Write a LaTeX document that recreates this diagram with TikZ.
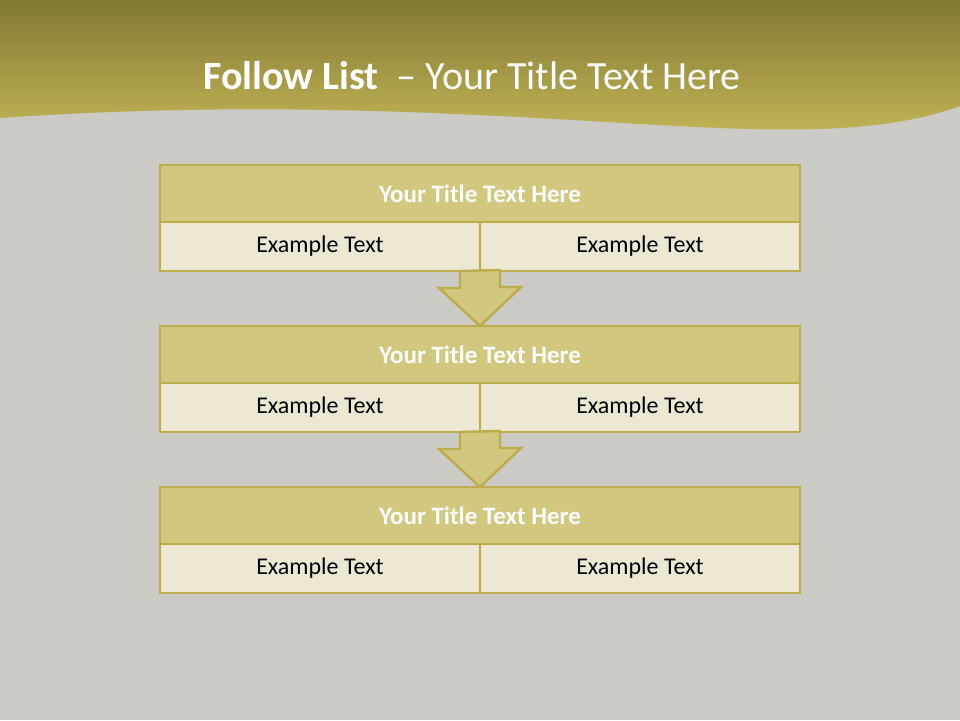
\documentclass[tikz,border=0pt]{standalone}
\usepackage{fontspec}
\setmainfont{Carlito}
\usepackage{tikz}
\usetikzlibrary{calc,positioning}

\definecolor{bgrey}{HTML}{CBCAC4}
\definecolor{hdark}{HTML}{817933}
\definecolor{hlight}{HTML}{C2B456}
\definecolor{gborder}{HTML}{BDAC4B}
\definecolor{gtitle}{HTML}{D2C77E}
\definecolor{gcell}{HTML}{ECE8D3}

\tikzset{
  titlebox/.style={draw=gborder, fill=gtitle, line width=2.8pt, outer sep=0pt,
    minimum width=640pt, minimum height=57pt, text=white,
    font=\fontsize{25}{30}\selectfont\bfseries},
  cellbox/.style={draw=gborder, fill=gcell, line width=2.8pt, outer sep=0pt,
    minimum width=320pt, minimum height=49pt, text=black,
    font=\fontsize{24}{29}\selectfont},
  blockarrow/.style={draw=gborder, fill=gtitle, line width=2.4pt, line join=miter}
}

\begin{document}
\begin{tikzpicture}[x=1pt, y=-1pt]
  \useasboundingbox (0,0) rectangle (960,720);
  \fill[bgrey] (0,0) rectangle (960,720);
  % wavy header band
  \shade[top color=hdark, bottom color=hlight]
    (0,0) -- (960,0) -- (960,106)
    .. controls (880,135) and (780,132) .. (640,124)
    .. controls (470,114) and (260,100) .. (0,118) -- cycle;
  \node[font=\fontsize{40}{48}\selectfont, text=white] (head) at (472,76)
    {\textbf{Follow List}\ \ -- Your Title Text Here};
  % three blocks
  \foreach \i/\y in {1/165, 2/326, 3/487} {
    \node[titlebox, anchor=north west] (t\i) at (160,\y) {Your Title Text Here};
    \node[cellbox, anchor=north west] (a\i) at (t\i.south west) {Example Text};
    \node[cellbox, anchor=north east] (b\i) at (t\i.south east) {Example Text};
  }
  % arrows between blocks
  \foreach \i/\j in {1/2, 2/3}
    \draw[blockarrow] ($(a\i.south east)+(-20,0)$) -- ++(0,17) -- ++(-21,0)
      -- (t\j.north) -- ++(41,-39) -- ++(-21,0) -- ++(0,-17) -- cycle;
\end{tikzpicture}
\end{document}
